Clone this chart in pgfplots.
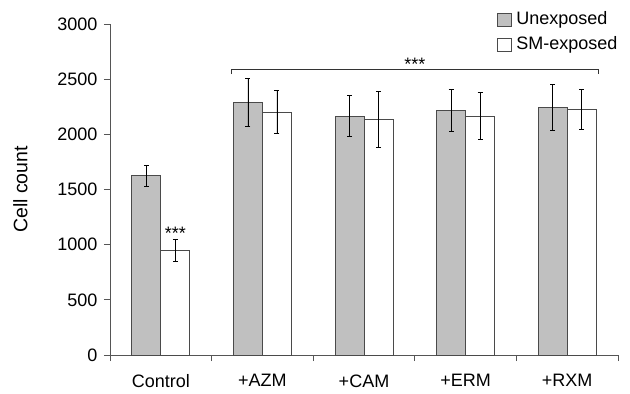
\documentclass[border=0pt]{standalone}
\usepackage{pgfplots}
\pgfplotsset{compat=1.18}
\usepackage{pgfplotstable}
\usepackage{fontspec}
\setmainfont{Liberation Sans}
\newcommand{\chartfont}{\fontsize{18bp}{21bp}\selectfont}
\definecolor{barGray}{HTML}{C0C0C0}
\definecolor{edgeGray}{HTML}{4A4A4A}
\definecolor{axisGray}{HTML}{555555}

\pgfplotstableread{
x y err
0 1625 95
1 2290 220
2 2165 185
3 2215 190
4 2245 205
}\unexposed

\pgfplotstableread{
x y err
0 950 100
1 2200 195
2 2135 250
3 2165 215
4 2225 180
}\smexposed

\begin{document}
\begin{tikzpicture}[font=\chartfont]
\begin{axis}[
  scale only axis,
  width=508bp, height=331bp,
  ybar=0pt, bar width=29bp,
  legend image code/.code={\draw[#1] (0bp,-7.5bp) rectangle (13.4bp,5.2bp); \path (16.2bp,0bp);},
  xmin=-0.5, xmax=4.5,
  ymin=0, ymax=3000,
  ytick={0,500,...,3000},
  axis lines=left,
  axis line style={-, axisGray, line width=0.9bp},
  tick align=outside,
  major tick length=6bp,
  tick style={axisGray, line width=0.9bp},
  xtick={-0.5,0.5,...,4.5},
  xticklabels={},
  extra x ticks={0,1,2,3,4},
  extra x tick labels={Control,+AZM,+CAM,+ERM,+RXM},
  extra x tick style={tick style={draw=none}},
  xticklabel style={yshift=-10bp},
  yticklabel style={xshift=-3bp},
  /pgf/number format/assume math mode=true,
  /pgf/number format/1000 sep={},
  tick label style={font=\chartfont},
  every axis y label/.style={at={(axis description cs:-0.1766,0.5)}, rotate=90, anchor=center},
  ylabel={Cell count},
  ylabel style={font=\fontsize{19.5bp}{22bp}\selectfont},
  legend style={at={(axis description cs:0.762,1.045)}, anchor=north west,
    draw=none, fill=none, inner sep=0pt, row sep=7bp, cells={anchor=west},
    font=\chartfont},
  clip=false,
]
\addplot[fill=barGray, draw=edgeGray, line width=0.9bp,
  error bars/.cd, y dir=both, y explicit,
  error bar style={black, line width=0.8bp},
  error mark options={rotate=90, mark size=2.5bp, black, line width=0.8bp}]
  table[x=x, y=y, y error=err] {\unexposed};
\addlegendentry{Unexposed}
\addplot[fill=white, draw=edgeGray, line width=0.9bp,
  error bars/.cd, y dir=both, y explicit,
  error bar style={black, line width=0.8bp},
  error mark options={rotate=90, mark size=2.5bp, black, line width=0.8bp}]
  table[x=x, y=y, y error=err] {\smexposed};
\addlegendentry{SM-exposed}
\draw[black!80, line width=0.9bp] (axis cs:0.70,2545) -- (axis cs:0.70,2590) -- (axis cs:4.31,2590) -- (axis cs:4.31,2545);
\node[anchor=base, inner sep=0pt] at (axis cs:2.5,2580) {***};
\node[anchor=base, inner sep=0pt] at (axis cs:0.143,1045) {***};
\end{axis}
\pgfresetboundingbox
\useasboundingbox (-110bp,-39bp) rectangle (520bp,355bp);
\end{tikzpicture}
\end{document}
